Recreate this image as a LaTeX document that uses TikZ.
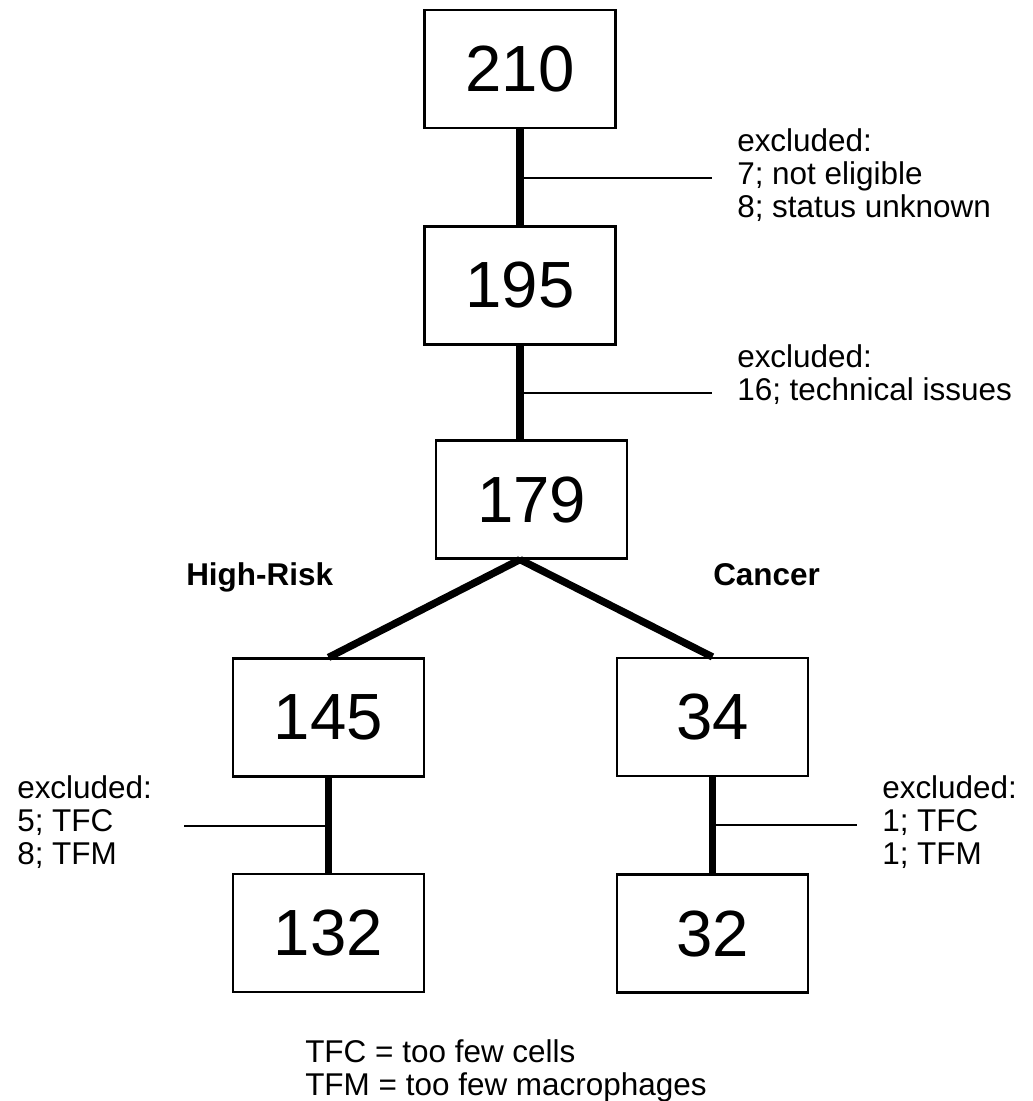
\documentclass[tikz,border=0pt]{standalone}
\usepackage{fontspec}
\setmainfont{Liberation Sans}
\begin{document}
\begin{tikzpicture}[x=0.75pt, y=-0.75pt,
    countbox/.style={draw, line width=1.6pt, minimum width=143.25pt, minimum height=88.5pt,
        inner sep=0pt, font=\fontsize{49}{49}\selectfont},
    note/.style={anchor=base west, inner sep=0pt, align=left, font=\fontsize{23.6}{24.4}\selectfont},
    trunk/.style={line width=5.5pt},
    branch/.style={line width=1.6pt}]
    \useasboundingbox (0, 0) rectangle (1033, 1101);
\node[countbox] (n210) at (520, 69) {210};
\node[countbox] (n195) at (520, 285.5) {195};
\node[countbox] (n179) at (531.5, 499.5) {179};
\node[countbox] (n145) at (328.5, 717.5) {145};
\node[countbox] (n34) at (712.5, 717) {34};
\node[countbox] (n132) at (328.5, 933) {132};
\node[countbox] (n32) at (712.5, 933.5) {32};
\draw[trunk] (n210) -- (n195);
\draw[trunk] (n195.south) -- (n195.south |- n179.north);
\coordinate (split) at (n195.south |- n179.south);
\draw[trunk] (split) -- (n145.north);
\draw[trunk] (split) -- (n34.north);
\draw[trunk] (n145) -- (n132);
\draw[trunk] (n34) -- (n32);
    % exclusion notes (base = last line)
\coordinate (j1) at (520, 178);  \coordinate (e1) at (712, 178);
\coordinate (j2) at (520, 393);  \coordinate (e2) at (712, 393);
\coordinate (j3) at (328.5, 826); \coordinate (e3) at (184, 826);
\coordinate (j4) at (712.5, 825); \coordinate (e4) at (857, 825);
\draw[branch] (j1) -- (e1);
\draw[branch] (j2) -- (e2);
\draw[branch] (j3) -- (e3);
\draw[branch] (j4) -- (e4);
\node[note] (x1) at (737, 217) {excluded:\\7; not eligible\\8; status unknown};
\node[note] (x2) at (737, 400) {excluded:\\16; technical issues};
\node[note] (x3) at (17, 864) {excluded:\\5; TFC\\8; TFM};
\node[note] (x4) at (882, 864) {excluded:\\1; TFC\\1; TFM};
\node[note, font=\fontsize{23.6}{24.4}\selectfont\bfseries] (risk) at (186, 585) {High-Risk};
\node[note, font=\fontsize{23.6}{24.4}\selectfont\bfseries] (cancer) at (713, 585) {Cancer};
\node[note] (legend) at (305, 1095) {TFC = too few cells\\TFM = too few macrophages};
    \end{tikzpicture}
\end{document}
